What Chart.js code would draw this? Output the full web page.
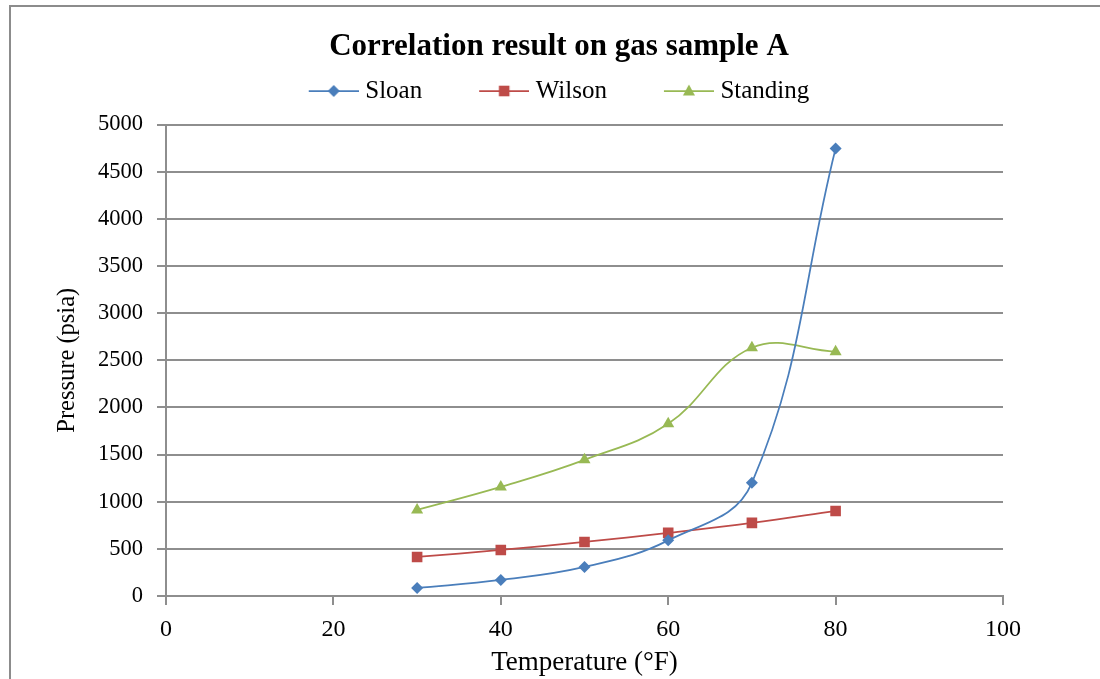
<!DOCTYPE html>
<html><head><meta charset="utf-8">
<script src="https://cdn.jsdelivr.net/npm/chart.js@4/dist/chart.umd.min.js"></script>
<style>
html,body{margin:0;padding:0;background:#fff;overflow:hidden;}
#frame{position:absolute;left:9px;top:5px;width:1300px;height:900px;border:2px solid #8c8c8c;}
#wrap{position:absolute;left:0;top:0;width:1100px;height:679px;}
</style></head>
<body>
<div id="frame"></div>
<div id="wrap"><canvas id="c" width="1100" height="679"></canvas></div>
<script>
const temperatures = [30, 40, 50, 60, 70, 80];
const sloan = [85, 170, 308, 590, 1200, 4745];
const wilson = [414, 488, 573, 669, 775, 902];
const standing = [913, 1157, 1444, 1826, 2633, 2590];
const xTicks = [0, 20, 40, 60, 80, 100];
const yTicks = [0, 500, 1000, 1500, 2000, 2500, 3000, 3500, 4000, 4500, 5000];

const seriesNames = ['Sloan', 'Wilson', 'Standing'];
const seriesColors = ['#4a7ebb', '#be4b48', '#98b954'];
const seriesStyles = ['rectRot', 'rect', 'triangle'];
const seriesRadius = [6, 7.5, 7];
const seriesValues = [sloan, wilson, standing];

function legendIcon(color, style) {
  const cv = document.createElement('canvas');
  cv.width = 56; cv.height = 18;
  const g = cv.getContext('2d');
  g.strokeStyle = color; g.lineWidth = 1.75;
  g.beginPath(); g.moveTo(6, 9); g.lineTo(56, 9); g.stroke();
  g.fillStyle = color;
  const cx = 31, cy = 9;
  g.beginPath();
  if (style === 'rectRot') { g.moveTo(cx, cy - 6); g.lineTo(cx + 6, cy); g.lineTo(cx, cy + 6); g.lineTo(cx - 6, cy); }
  else if (style === 'rect') { g.rect(cx - 5.3, cy - 5.3, 10.6, 10.6); }
  else { g.moveTo(cx, cy - 6.5); g.lineTo(cx + 6, cy + 4.5); g.lineTo(cx - 6, cy + 4.5); }
  g.closePath(); g.fill();
  return cv;
}
const icons = seriesColors.map((c, i) => legendIcon(c, seriesStyles[i]));

const datasets = seriesNames.map((name, i) => ({
  label: name,
  data: temperatures.map((t, j) => ({x: t, y: seriesValues[i][j]})),
  borderColor: seriesColors[i],
  backgroundColor: seriesColors[i],
  borderWidth: 1.75,
  pointStyle: seriesStyles[i],
  pointRadius: seriesRadius[i],
  pointBorderWidth: 0,
  tension: 0.4,
  fill: false
}));

const serif = '"Liberation Serif", "Times New Roman", serif';
const gridColor = '#8e8e8e';

new Chart(document.getElementById('c'), {
  type: 'line',
  data: { datasets },
  options: {
    responsive: false,
    animation: false,
    devicePixelRatio: 1,
    layout: { padding: { left: 18, right: 0, top: 0, bottom: 0 } },
    plugins: {
      title: {
        display: true,
        text: 'Correlation result on gas sample A',
        color: '#000',
        font: { family: serif, size: 31, weight: 'bold', lineHeight: 1.0 },
        padding: { top: 31.5, bottom: -41 }
      },
      legend: {
        display: true,
        labels: {
          color: '#000',
          font: { family: serif, size: 25 },
          usePointStyle: true,
          pointStyleWidth: 44,
          padding: 57,
          generateLabels: (chart) => seriesNames.map((n, i) => ({
            text: n, pointStyle: icons[i], fillStyle: seriesColors[i],
            strokeStyle: seriesColors[i], lineWidth: 0, datasetIndex: i, fontColor: '#000'
          }))
        }
      },
      tooltip: { enabled: false }
    },
    scales: {
      x: {
        type: 'linear', min: 0, max: 100,
        afterFit: (s) => { s.height = 83; },
        afterBuildTicks: (s) => { s.ticks = xTicks.map(v => ({value: v})); },
        ticks: { color: '#000', font: { family: serif, size: 24 }, padding: 10, maxRotation: 0, callback: (v) => String(v) },
        grid: { drawOnChartArea: false, drawTicks: true, tickLength: 9, color: gridColor, lineWidth: 2 },
        border: { display: true, color: gridColor, width: 2 },
        title: { display: true, text: 'Temperature (°F)', color: '#000', font: { family: serif, size: 27, lineHeight: 1.2 }, padding: { top: 0, bottom: 0 } }
      },
      xTop: {
        type: 'linear', position: 'top', min: 0, max: 100, display: true,
        afterFit: (s) => { s.height = 11; },
        ticks: { display: false },
        grid: { display: false, drawTicks: false },
        border: { display: false }
      },
      y: {
        type: 'linear', min: 0, max: 5000,
        afterFit: (s) => { s.width = 148; },
        afterBuildTicks: (s) => { s.ticks = yTicks.map(v => ({value: v})); },
        ticks: { color: '#000', font: { family: serif, size: 22.5 }, padding: 14, callback: (v) => String(v) },
        grid: { drawOnChartArea: true, drawTicks: true, tickLength: 9, color: gridColor, lineWidth: 2 },
        border: { display: true, color: gridColor, width: 2 },
        title: { display: true, text: 'Pressure (psia)', color: '#000', font: { family: serif, size: 24.5, lineHeight: 1.2 }, padding: { top: 35, bottom: 0 } }
      },
      yRight: {
        type: 'linear', position: 'right', min: 0, max: 5000, display: true,
        afterFit: (s) => { s.width = 97; },
        ticks: { display: false },
        grid: { display: false, drawTicks: false },
        border: { display: false }
      }
    }
  }
});
</script>
</body></html>
